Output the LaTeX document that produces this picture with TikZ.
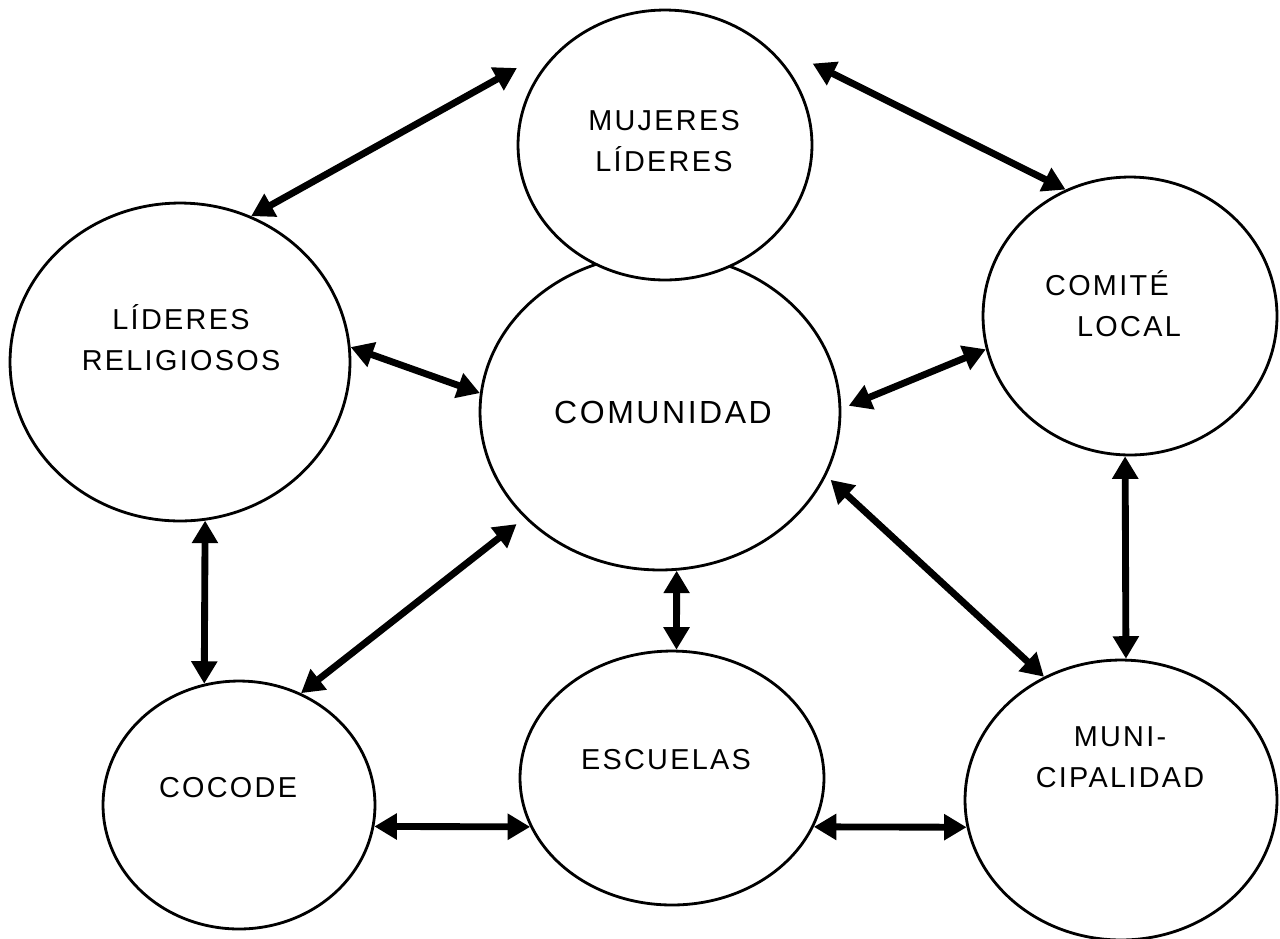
\documentclass[tikz,border=0pt]{standalone}
\usepackage{fontspec}
\setmainfont[LetterSpace=8]{Liberation Sans}
\usetikzlibrary{shapes.geometric,arrows.meta}
\tikzset{
  elipse/.style = {ellipse, draw=black, fill=white, line width=1.6pt,
    inner sep=0pt},% contorno de cada grupo
  texto/.style = {align=center, inner sep=0pt,
    font=\fontsize{16.4}{23.3}\selectfont},
  flecha/.style = {<->, line width=3.9pt}% relacion entre grupos
}

\begin{document}
\begin{tikzpicture}[x=0.02cm, y=-0.02cm,
  >={Triangle[length=0.45cm, width=0.5cm]}]
\useasboundingbox (0,0) rectangle (1280,938);
% grupos
\node [elipse, minimum width=7.2cm, minimum height=6.32cm] (comunidad) at (660,412) {};
\node [elipse, minimum width=5.88cm, minimum height=5.4cm] (mujeres) at (665,145) {};
\node [elipse, minimum width=6.8cm, minimum height=6.36cm] (religiosos) at (180,362) {};
\node [elipse, minimum width=5.88cm, minimum height=5.56cm] (comite) at (1130,316) {};
\node [elipse, minimum width=5.44cm, minimum height=4.96cm] (cocode) at (239,805) {};
\node [elipse, minimum width=6.08cm, minimum height=5.08cm] (escuelas) at (672,778) {};
\node [elipse, minimum width=6.24cm, minimum height=5.6cm] (municipalidad) at (1121,800) {};
% textos
\node [texto] (t_mujeres) at (664,141) {MUJERES\\LÍDERES};
\node [texto] (t_religiosos) at (181,338) {LÍDERES\\RELIGIOSOS};
\node [texto, font=\fontsize{18.2}{22}\selectfont] (t_comunidad) at (663,412) {COMUNIDAD};
\node [texto, align=left] (t_comite) at (1113,304) {COMITÉ\\\hspace*{0.64cm}LOCAL};
\node [texto] (t_cocode) at (228,788) {COCODE};
\node [texto] (t_escuelas) at (666,760) {ESCUELAS};
\node [texto] (t_municipalidad) at (1120,757) {MUNI-\\CIPALIDAD};
% flechas
\draw [flecha, shorten <=1.6cm] (mujeres.124) -- (religiosos.64);
\draw [flecha, shorten <=1.6cm] (mujeres.57) -- (comite.117);
\draw [flecha] (religiosos.5) -- (comunidad.174);
\draw [flecha, shorten <=0.16cm] (comunidad.1) -- (comite.193);
\draw [flecha] (religiosos.279) -- (cocode.106);
\draw [flecha, shorten <=0.2cm] (comunidad.218) -- (cocode.61);
\draw [flecha] (comunidad.276) -- (escuelas.88);
\draw [flecha, shorten <=0.12cm] (comunidad.339) -- (municipalidad.122);
\draw [flecha] (comite.268) -- (municipalidad.88);
\draw [flecha] (cocode.351) -- (escuelas.199);
\draw [flecha] (escuelas.341) -- (municipalidad.190);
\end{tikzpicture}
\end{document}
